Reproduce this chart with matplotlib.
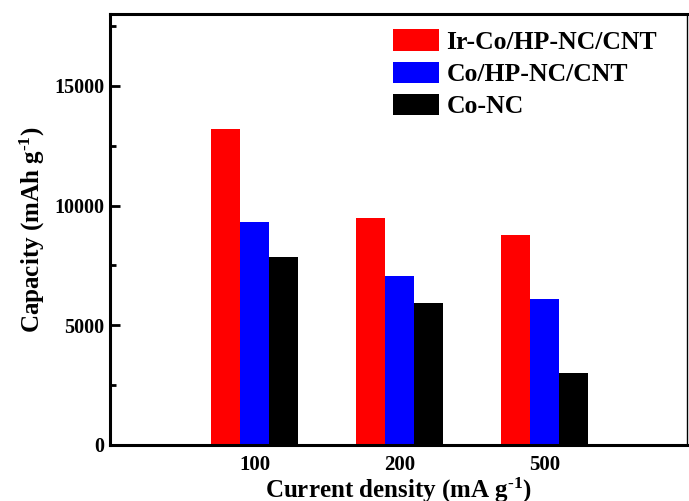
import matplotlib
matplotlib.use('Agg')
import matplotlib.pyplot as plt
import numpy as np
from matplotlib.ticker import MultipleLocator

# data
densities = ['100', '200', '500']
samples = ['Ir-Co/HP-NC/CNT', 'Co/HP-NC/CNT', 'Co-NC']
colours = ['#ff0000', '#0000ff', '#000000']
ir_co = [13200, 9500, 8750]
co_hp = [9300, 7050, 6100]
co_nc = [7850, 5950, 3000]

plt.rcParams['font.family'] = 'Liberation Serif'
plt.rcParams['font.weight'] = 'bold'
plt.rcParams['mathtext.fontset'] = 'custom'
plt.rcParams['mathtext.rm'] = 'Liberation Serif:bold'
plt.rcParams['mathtext.bf'] = 'Liberation Serif:bold'
plt.rcParams['mathtext.it'] = 'Liberation Serif:bold'

fig = plt.figure(figsize=(6.89, 5.01), dpi=100)
ax = fig.add_axes([110/689, 1 - 445/501, (687-110)/689, (445-14)/501])

x = np.arange(1, len(densities) + 1)
w = 0.2
for i, (vals, lab, col) in enumerate(zip([ir_co, co_hp, co_nc], samples, colours)):
    ax.bar(x + (i - 1) * w, vals, w, color=col, label=lab)

ax.set_xlim(0, 3.98)
ax.set_ylim(0, 18000)
ax.set_xticks(x)
ax.set_xticklabels(densities)
ax.yaxis.set_major_locator(MultipleLocator(5000))
ax.yaxis.set_minor_locator(MultipleLocator(2500))
ax.tick_params(axis='y', which='major', direction='in', length=7, width=2, labelsize=14.5, pad=4)
ax.tick_params(axis='y', which='minor', direction='in', length=4, width=2)
ax.tick_params(axis='x', length=0, labelsize=15, pad=7)
for lab in ax.get_xticklabels() + ax.get_yticklabels():
    lab.set_fontweight('bold')

for s in ['left', 'bottom', 'top']:
    ax.spines[s].set_linewidth(2.2)
ax.spines['right'].set_linewidth(1)

sup = '$^{\u20101}$'  # hyphen-style superscript -1
ax.set_xlabel('Current density (mA g' + sup + ')', fontsize=18, fontweight='bold', labelpad=1)
ax.set_ylabel('Capacity (mAh g' + sup + ')', fontsize=18, fontweight='bold', labelpad=5)

leg = ax.legend(loc='upper right', bbox_to_anchor=(0.975, 1.0), frameon=False,
                fontsize=18.5, handlelength=1.8, handleheight=0.9,
                handletextpad=0.3, labelspacing=0.3, borderaxespad=0.2)
for t in leg.get_texts():
    t.set_fontweight('bold')

fig.savefig('out.png', dpi=100)
